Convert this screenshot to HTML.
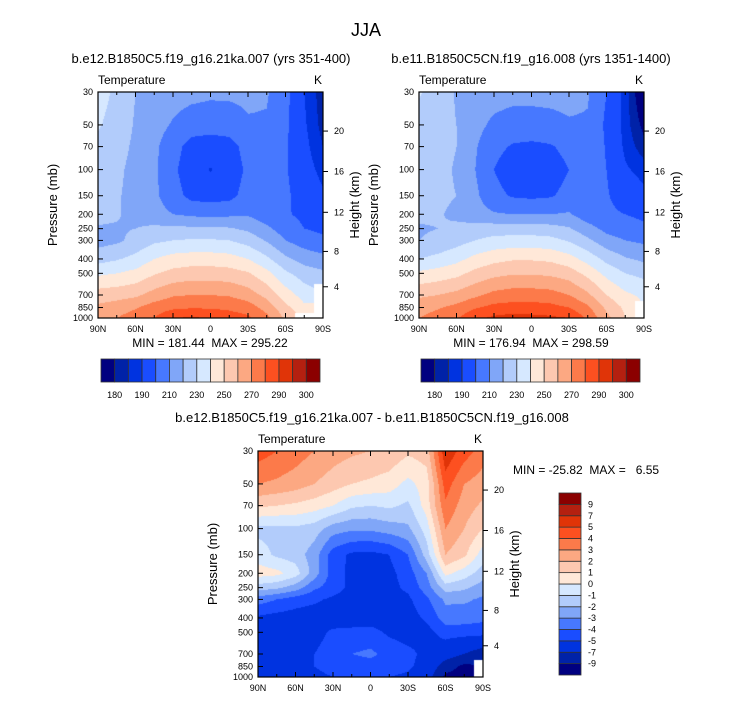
<!DOCTYPE html>
<html><head><meta charset="utf-8">
<style>
html,body{margin:0;padding:0;background:#fff;}
#wrap{position:relative;width:733px;height:701px;overflow:hidden;font-family:"Liberation Sans",sans-serif;}
canvas{position:absolute;}
svg{position:absolute;left:0;top:0;}
</style></head>
<body>
<div id="wrap">
<canvas id="c1" width="225" height="226" style="left:98px;top:92px"></canvas>
<canvas id="c2" width="225" height="226" style="left:419px;top:92px"></canvas>
<canvas id="c3" width="225" height="226" style="left:258px;top:451px"></canvas>
<svg id="svg" width="733" height="701"></svg>
</div>
<script>
// ---- data ----
const lats = [90,75,60,45,30,15,0,-15,-30,-45,-60,-75,-90];
const levels = [30,50,70,100,150,200,250,300,400,500,700,850,1000];
const tickPressure = [30,50,70,100,150,200,250,300,400,500,700,850,1000];
const latTicks = [90,60,30,0,-30,-60,-90];
const latTickLabels = ["90N","60N","30N","0","30S","60S","90S"];
const heightTicks = [4,8,12,16,20];
const heightTickPressure = [616,356,194,103,55];
const tempBounds = [180,185,190,200,210,220,230,240,250,260,270,280,290,295,300];
const tempLabels = ["180","190","210","230","250","270","290","300"];
const diffBounds = [-9,-7,-5,-4,-3,-2,-1,0,1,2,3,4,5,7,9];
const diffLabels = ["-9","-7","-5","-4","-3","-2","-1","0","1","2","3","4","5","7","9"];
const N = NaN;
const temp1 = [
[234,228,220,216,214,213,212,212,212,211,203,190,182],
[231,226,219,214,209,205,204,205,209,209,202,191,183],
[228,224,218,212,204,196,195,196,204,208,201,192,185],
[226,222,217,212,202,194,189.5,194,202,207,201,193,188],
[224,221,217,212,204,197,196,197,204,207,202,195,191],
[223,221,217,214,210,208,207,208,209,204,201,198,195],
[219,219,220,222,222,222,222,221,218,212,205,200,198],
[216,218,223,228,230,231,231,230,226,219,210,205,202],
[226,229,233,240,244,245,245,244,240,232,222,216,213],
[238,240,243,249,253,255,255,254,251,243,232,225,222],
[255,256,258,264,269,270,270,269,265,257,245,236,N],
[262,265,269,275,278,279,279,278,275,266,253,242,N],
[265,270,275,280,289,292,288,285,282,273,258,N,N]];
const temp2 = [
[231,226,219,216,214,213,213,213,213,211,200,187.5,173],
[226,224,220,213,208,206,206,207,209,209,198,187.5,178],
[226,224,220,211,203,199,198,199,203,209,199,188.5,182],
[225,223,219,210,200,194,193,195,200,208,200,191,187.5],
[224,222,220,212,203,199,198,199,203,208,201,195,192],
[222,221,218,214,211,210,210,210,211,204,202,200,198],
[219,220,222,224,225,225,225,224,221,214,207,204,202],
[220,222,226,230,233,234,234,233,229,222,214,210,208],
[230,233,237,243,247,249,249,248,244,236,227,221,218],
[242,244,247,253,257,259,259,258,255,247,237,230,227],
[258,260,263,268,273,275,275,274,270,262,250,242,238],
[266,269,273,279,283,284,284,283,280,272,258,248,N],
[270,274,279,288,292,294,293,292,290,278,263,250,N]];
const diff = [
[4.5,4,3.5,3,2.5,2.2,2,1.8,1.2,1.5,5.8,4.5,3.5],
[3,2.8,2.5,2,1.5,1,0.8,0.5,-0.3,0.5,4.5,3,2.5],
[1.2,1,0.8,0.5,0,-0.8,-1,-0.8,-1.2,0.5,3.8,2.5,1.8],
[-1.3,-1.3,-1.2,-1.5,-2.5,-2.8,-2.8,-2.5,-2.2,-0.5,3,2,1],
[-0.5,-1.2,-1.5,-2.5,-4.5,-5.2,-5.3,-5,-4,-1.5,2,1.2,-0.5],
[0.5,0.3,-0.5,-2.5,-4.5,-5.3,-5.5,-5.3,-4.5,-3,0.3,-0.5,-1.5],
[-1.5,-1.8,-2.5,-3.8,-4.5,-5.3,-5.5,-5.3,-4.8,-3.5,-1.5,-1.8,-2.5],
[-3.5,-4,-4.5,-4.8,-5.2,-5.5,-5.5,-5.4,-5.2,-4.2,-2.8,-2.8,-3.2],
[-5.2,-5.4,-5.5,-5.6,-5.6,-5.6,-5.6,-5.6,-5.5,-4.8,-3.5,-3.6,-3.8],
[-5.3,-5.3,-5.3,-5.4,-4.8,-4.7,-4.6,-5.2,-5.5,-5.4,-4.5,-4.5,-4.5],
[-5.5,-5.5,-5.3,-5,-4.5,-4,-3.8,-4.3,-4.7,-5.3,-6,-7,-8],
[-6.5,-5.5,-5.2,-5,-4.6,-4.5,-4.4,-4.6,-4.8,-5.5,-8,-9.5,N],
[-6,-5.5,-5.5,-5.3,-5,-5,-5,-5,-5.2,-6,-9.5,-10,N]];
const palette = ["#000080","#0022a8","#0033e0","#1a4dff","#4778ff","#80a6f8","#b2ccfb","#d6e8ff","#ffe8d8","#fdc8b0","#fca882","#fc7a4a","#fd5020","#e03408","#b42010","#8b0000"];

// ---- helpers ----
const NS="http://www.w3.org/2000/svg";
const svg=document.getElementById('svg');
function mk(tag,attrs,parent){const e=document.createElementNS(NS,tag);for(const k in attrs)e.setAttribute(k,attrs[k]);(parent||svg).appendChild(e);return e;}
function txt(x,y,s,size,anchor,extra){const t=mk('text',Object.assign({x:x,y:y,'font-size':size,'text-anchor':anchor||'middle',fill:'#000','font-family':'Liberation Sans, sans-serif'},extra||{}));t.textContent=s;return t;}
function hexRgb(h){return [parseInt(h.substr(1,2),16),parseInt(h.substr(3,2),16),parseInt(h.substr(5,2),16)];}
const palRgb=palette.map(hexRgb);
const W=225,H=226;
const lnTop=Math.log(30),lnBot=Math.log(1000);
function yOfP(p){return (Math.log(p)-lnTop)/(lnBot-lnTop)*H;}
function xOfLat(l){return (90-l)/180*W;}
const levY=levels.map(yOfP);
function colorIndex(v,b){let i=0;while(i<b.length&&v>=b[i])i++;return i;}
function sample(grid,fx,py){
  let j=Math.min(Math.floor(fx),lats.length-2);const tx=fx-j;
  let i=0;while(i<levels.length-2&&py>levY[i+1])i++;
  const ty=Math.max(0,Math.min(1,(py-levY[i])/(levY[i+1]-levY[i])));
  const ni=ty<0.5?i:i+1,nj=tx<0.5?j:j+1;
  if(isNaN(grid[ni][nj]))return NaN;
  const c=[[grid[i][j],(1-tx)*(1-ty)],[grid[i][j+1],tx*(1-ty)],[grid[i+1][j],(1-tx)*ty],[grid[i+1][j+1],tx*ty]];
  let s=0,w=0;for(const[v,ww]of c){if(!isNaN(v)){s+=v*ww;w+=ww;}}
  return w>0?s/w:NaN;
}
function drawField(id,grid,bounds){
  const cv=document.getElementById(id);const ctx=cv.getContext('2d');
  const img=ctx.createImageData(W,H);
  for(let y=0;y<H;y++)for(let x=0;x<W;x++){
    const fx=(x+0.5)/W*(lats.length-1);
    const v=sample(grid,fx,y+0.5);const k=(y*W+x)*4;
    if(isNaN(v)){img.data[k]=255;img.data[k+1]=255;img.data[k+2]=255;}
    else{const c=palRgb[colorIndex(v,bounds)];img.data[k]=c[0];img.data[k+1]=c[1];img.data[k+2]=c[2];}
    img.data[k+3]=255;
  }
  ctx.putImageData(img,0,0);
}
function axes(ox,oy,name){
  const g=mk('g',{transform:`translate(${ox},${oy})`});
  
  
  mk('rect',{x:0,y:0,width:W,height:H,fill:'none',stroke:'#000','stroke-width':1.2},g);
  tickPressure.forEach(p=>{const y=yOfP(p);mk('line',{x1:0,x2:5,y1:y,y2:y,stroke:'#000'},g);
    const t=txt(-5,y+3,String(p),9,'end');g.appendChild(t);});
  for(let l=90;l>=-90;l-=15){const x=xOfLat(l);const major=l%30===0;const len=major?5:3;
    mk('line',{x1:x,x2:x,y1:H,y2:H-len,stroke:'#000'},g);mk('line',{x1:x,x2:x,y1:0,y2:len,stroke:'#000'},g);}
  latTicks.forEach((l,i)=>{const t=txt(xOfLat(l),H+14,latTickLabels[i],9,'middle');g.appendChild(t);});
  heightTicks.forEach((h,i)=>{const y=yOfP(heightTickPressure[i]);mk('line',{x1:W,x2:W+5,y1:y,y2:y,stroke:'#000'},g);
    const t=txt(W+11,y+3,String(h),9,'start');g.appendChild(t);});
  const pl=txt(0,0,'Pressure (mb)',13,'middle',{transform:`translate(-41,${H/2}) rotate(-90)`});g.appendChild(pl);
  
  const hl=txt(0,0,'Height (km)',13,'middle',{transform:`translate(${W+36},${H/2}) rotate(-90)`});g.appendChild(hl);
  
  const tl=txt(0,-8,'Temperature',12,'start');g.appendChild(tl);
  
  const kl=txt(W-1,-8,'K',12,'end');g.appendChild(kl);
  
}
function hbar(x0,y0,w,h,name){
  const g=mk('g',{});
  const bw=w/palette.length;
  palette.forEach((c,i)=>{const r=mk('rect',{x:x0+i*bw,y:y0,width:bw,height:h,fill:c,stroke:'#333','stroke-width':0.8},g);
    });
  tempLabels.forEach((s,i)=>{const t=txt(x0+(2*i+1)*bw,y0+h+16,s,9,'middle');g.appendChild(t);});
}
function vbar(x0,y0,w,h,name){
  const g=mk('g',{});
  const bh=h/palette.length;
  palette.forEach((c,i)=>{const r=mk('rect',{x:x0,y:y0+h-(i+1)*bh,width:w,height:bh,fill:c,stroke:'#333','stroke-width':0.8},g);
    });
  diffLabels.forEach((s,i)=>{const t=txt(x0+w+7,y0+h-(i+1)*bh+3,s,9,'start');g.appendChild(t);});
}

drawField('c1',temp1,tempBounds);
drawField('c2',temp2,tempBounds);
drawField('c3',diff,diffBounds);

let t=txt(366,36,'JJA',18,'middle');
t=txt(211,63,'b.e12.B1850C5.f19_g16.21ka.007 (yrs 351-400)',13,'middle');
t=txt(531,63,'b.e11.B1850C5CN.f19_g16.008 (yrs 1351-1400)',13,'middle');
t=txt(372,422,'b.e12.B1850C5.f19_g16.21ka.007 - b.e11.B1850C5CN.f19_g16.008',13,'middle');
axes(98,92,'panel-1');axes(419,92,'panel-2');axes(258,451,'difference');
t=txt(210,347,'MIN = 181.44\u00a0\u00a0MAX = 295.22',12,'middle');
t=txt(531,347,'MIN = 176.94\u00a0\u00a0MAX = 298.59',12,'middle');
t=txt(513,474,'MIN = -25.82\u00a0\u00a0MAX = \u00a0\u00a06.55',12,'start');
hbar(101,359,219,23,'colorbar-1');
hbar(421,359,219,23,'colorbar-2');
vbar(559,493,22,182,'colorbar-difference');
</script>
</body></html>
